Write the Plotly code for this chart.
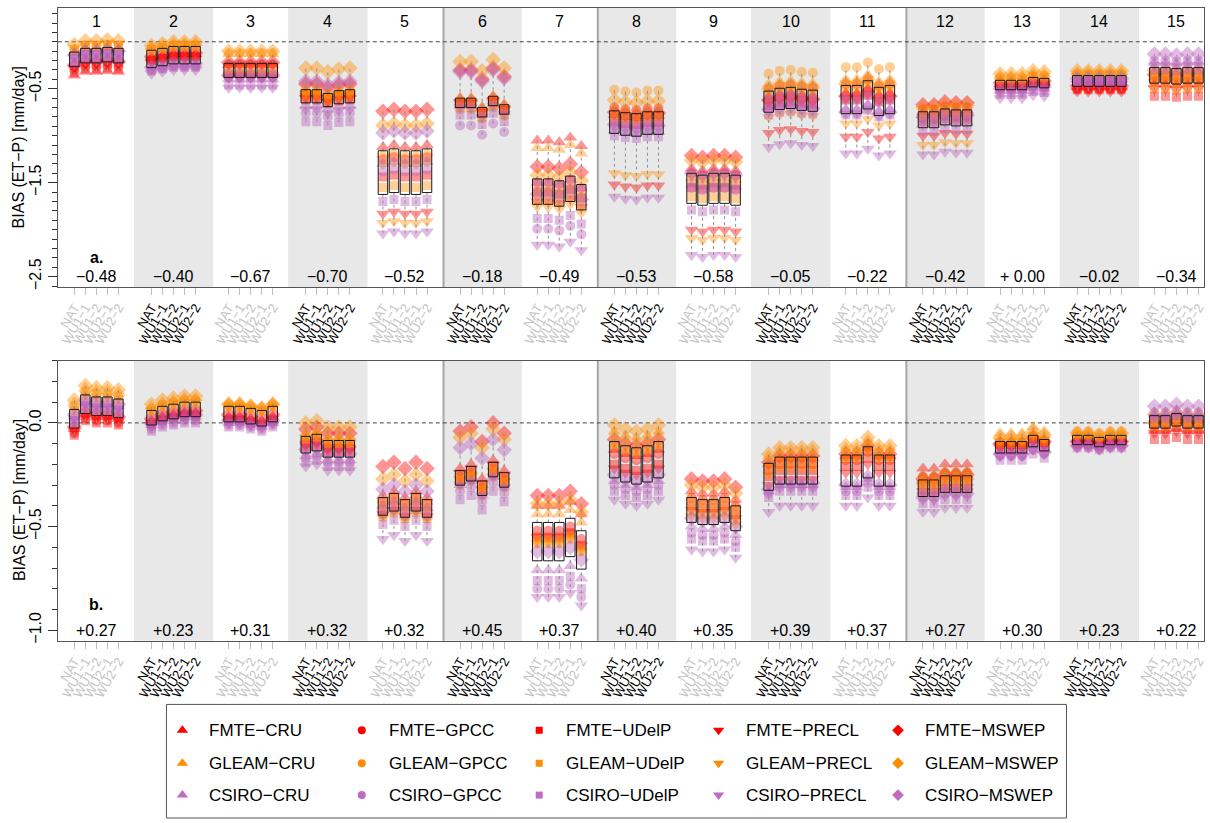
import numpy as np
import plotly.graph_objects as go

FIG_W, FIG_H = 1210, 823

# ---------------- categories / labels ----------------
group_names = [str(i) for i in range(1, 16)]
scenarios = ["NAT", "WU1\u22121", "WU1\u22122", "WU2\u22121", "WU2\u22122"]
et_products = ["FMTE", "GLEAM", "CSIRO"]
p_products = ["CRU", "GPCC", "UDelP", "PRECL", "MSWEP"]

top_labels = ["\u22120.48", "\u22120.40", "\u22120.67", "\u22120.70", "\u22120.52", "\u22120.18", "\u22120.49",
              "\u22120.53", "\u22120.58", "\u22120.05", "\u22120.22", "\u22120.42", "+ 0.00", "\u22120.02", "\u22120.34"]
bot_labels = ["+0.27", "+0.23", "+0.31", "+0.32", "+0.32", "+0.45", "+0.37", "+0.40", "+0.35", "+0.39",
              "+0.37", "+0.27", "+0.30", "+0.23", "+0.22"]

# ---------------- panel a: NAT values per product (15 groups) ----------------
top_FMTE_CRU   = [-0.36, -0.17, -0.25, -0.55, -1.12, -0.60, -1.05, -0.78, -1.35, -0.60, -0.55, -0.75, -0.45, -0.48, -0.45]
top_FMTE_GPCC  = [-0.30, -0.19, -0.24, -0.56, -1.25, -0.66, -1.50, -0.70, -1.40, -0.50, -0.45, -0.72, -0.47, -0.50, -0.42]
top_FMTE_UDelP = [-0.33, -0.20, -0.34, -0.62, -1.44, -0.66, -1.60, -0.85, -1.55, -0.68, -0.62, -0.82, -0.48, -0.51, -0.58]
top_FMTE_PRECL = [-0.28, -0.22, -0.38, -0.60, -1.83, -0.64, -1.70, -1.52, -2.00, -0.97, -1.01, -1.00, -0.50, -0.53, -0.50]
top_FMTE_MSWEP = [-0.25, -0.16, -0.22, -0.45, -0.74, -0.30, -1.33, -0.75, -1.21, -0.62, -0.58, -0.67, -0.44, -0.47, -0.35]
top_GLEAM_CRU   = [-0.12, -0.05, -0.13, -0.52, -1.20, -0.60, -1.13, -0.72, -1.45, -0.45, -0.40, -0.78, -0.36, -0.32, -0.38]
top_GLEAM_GPCC  = [-0.08, -0.07, -0.12, -0.50, -1.30, -0.72, -1.58, -0.51, -1.50, -0.34, -0.27, -0.74, -0.38, -0.34, -0.35]
top_GLEAM_UDelP = [-0.10, -0.08, -0.30, -0.58, -1.55, -0.70, -1.68, -0.80, -1.65, -0.55, -0.48, -0.85, -0.40, -0.35, -0.50]
top_GLEAM_PRECL = [-0.06, -0.10, -0.35, -0.55, -1.93, -0.66, -1.76, -1.40, -2.09, -0.80, -0.87, -1.10, -0.42, -0.37, -0.43]
top_GLEAM_MSWEP = [-0.03, -0.04, -0.10, -0.28, -0.89, -0.21, -1.42, -0.62, -1.26, -0.50, -0.45, -0.70, -0.34, -0.31, -0.30]
top_CSIRO_CRU   = [-0.24, -0.28, -0.40, -0.68, -1.30, -0.68, -1.50, -0.95, -1.52, -0.70, -0.72, -0.88, -0.52, -0.40, -0.22]
top_CSIRO_GPCC  = [-0.18, -0.30, -0.38, -0.76, -1.38, -0.89, -1.99, -0.90, -1.56, -0.60, -0.62, -0.85, -0.54, -0.42, -0.20]
top_CSIRO_UDelP = [-0.21, -0.31, -0.46, -0.85, -1.70, -0.78, -1.88, -1.00, -1.79, -0.78, -0.78, -0.95, -0.56, -0.43, -0.30]
top_CSIRO_PRECL = [-0.16, -0.34, -0.49, -0.72, -2.04, -0.70, -2.16, -1.65, -2.27, -1.12, -1.19, -1.20, -0.60, -0.45, -0.25]
top_CSIRO_MSWEP = [-0.14, -0.27, -0.36, -0.42, -0.97, -0.32, -1.62, -0.88, -1.40, -0.72, -0.75, -0.80, -0.50, -0.39, -0.13]

# scenario offsets relative to NAT (panel a)
top_shift_NAT  = [0.0] * 15
top_shift_WU11 = [0.04, 0.02, 0.00, 0.00, 0.02, 0.00, 0.00, -0.02, -0.02, 0.03, 0.00, 0.00, 0.00, 0.00, 0.00]
top_shift_WU12 = [0.04, 0.04, 0.00, -0.04, 0.00, -0.10, -0.02, -0.03, 0.00, 0.04, 0.05, 0.03, 0.00, 0.00, -0.01]
top_shift_WU21 = [0.05, 0.04, 0.00, -0.01, 0.00, 0.02, 0.03, -0.01, 0.00, 0.02, -0.02, 0.02, 0.03, 0.00, 0.00]
top_shift_WU22 = [0.04, 0.04, 0.00, 0.00, 0.02, -0.07, -0.06, -0.01, -0.02, 0.01, 0.00, 0.02, 0.02, 0.00, 0.00]

# ---------------- panel b ----------------
bot_FMTE_CRU   = [-0.03, 0.01, 0.03, -0.08, -0.35, -0.22, -0.40, -0.13, -0.33, -0.20, -0.16, -0.22, -0.09, -0.08, -0.04]
bot_FMTE_GPCC  = [-0.05, 0.00, 0.02, -0.10, -0.38, -0.26, -0.52, -0.15, -0.36, -0.23, -0.18, -0.26, -0.11, -0.09, -0.03]
bot_FMTE_UDelP = [-0.06, -0.01, 0.01, -0.12, -0.42, -0.28, -0.55, -0.20, -0.40, -0.26, -0.21, -0.30, -0.13, -0.10, -0.08]
bot_FMTE_PRECL = [-0.04, 0.00, 0.02, -0.11, -0.44, -0.24, -0.55, -0.22, -0.42, -0.30, -0.24, -0.33, -0.12, -0.10, -0.05]
bot_FMTE_MSWEP = [-0.02, 0.02, 0.04, -0.03, -0.21, -0.04, -0.35, -0.08, -0.27, -0.19, -0.15, -0.27, -0.10, -0.09, 0.00]
bot_GLEAM_CRU   = [0.10, 0.08, 0.10, -0.05, -0.37, -0.25, -0.44, -0.04, -0.36, -0.16, -0.12, -0.25, -0.05, -0.05, 0.01]
bot_GLEAM_GPCC  = [0.08, 0.07, 0.09, -0.06, -0.40, -0.28, -0.56, -0.06, -0.39, -0.19, -0.14, -0.28, -0.08, -0.04, 0.02]
bot_GLEAM_UDelP = [0.06, 0.06, 0.08, -0.08, -0.45, -0.30, -0.58, -0.10, -0.43, -0.22, -0.16, -0.32, -0.10, -0.06, -0.02]
bot_GLEAM_PRECL = [0.07, 0.06, 0.08, -0.07, -0.46, -0.27, -0.58, -0.12, -0.45, -0.25, -0.18, -0.35, -0.09, -0.06, 0.00]
bot_GLEAM_MSWEP = [0.11, 0.09, 0.09, 0.00, -0.27, -0.07, -0.39, -0.01, -0.30, -0.15, -0.11, -0.29, -0.07, -0.05, 0.04]
bot_CSIRO_CRU   = [0.03, -0.01, 0.00, -0.16, -0.40, -0.30, -0.71, -0.28, -0.50, -0.33, -0.31, -0.33, -0.14, -0.10, 0.04]
bot_CSIRO_GPCC  = [0.01, -0.03, -0.01, -0.17, -0.44, -0.33, -0.80, -0.30, -0.53, -0.34, -0.33, -0.36, -0.16, -0.11, 0.05]
bot_CSIRO_UDelP = [0.00, -0.04, -0.02, -0.19, -0.49, -0.37, -0.76, -0.33, -0.56, -0.36, -0.35, -0.39, -0.18, -0.12, 0.02]
bot_CSIRO_PRECL = [0.02, -0.02, 0.00, -0.21, -0.56, -0.30, -0.84, -0.37, -0.61, -0.43, -0.40, -0.43, -0.16, -0.12, 0.03]
bot_CSIRO_MSWEP = [0.04, 0.00, 0.01, -0.13, -0.32, -0.12, -0.62, -0.25, -0.46, -0.32, -0.30, -0.36, -0.15, -0.11, 0.08]

bot_shift_NAT  = [0.0] * 15
bot_shift_WU11 = [0.07, 0.02, 0.00, 0.01, 0.02, 0.02, 0.00, -0.02, -0.01, 0.03, 0.00, 0.00, 0.00, 0.00, 0.00]
bot_shift_WU12 = [0.06, 0.03, -0.01, -0.02, -0.01, -0.05, 0.00, -0.03, -0.01, 0.03, 0.04, 0.02, 0.00, -0.01, 0.01]
bot_shift_WU21 = [0.06, 0.04, -0.02, -0.02, 0.02, 0.04, 0.02, -0.02, 0.00, 0.03, 0.00, 0.02, 0.03, 0.00, 0.00]
bot_shift_WU22 = [0.05, 0.04, 0.00, -0.02, -0.01, -0.01, -0.04, 0.00, -0.04, 0.03, 0.00, 0.02, 0.01, 0.00, 0.00]

top_values = {
    ("FMTE", "CRU"): top_FMTE_CRU, ("FMTE", "GPCC"): top_FMTE_GPCC, ("FMTE", "UDelP"): top_FMTE_UDelP,
    ("FMTE", "PRECL"): top_FMTE_PRECL, ("FMTE", "MSWEP"): top_FMTE_MSWEP,
    ("GLEAM", "CRU"): top_GLEAM_CRU, ("GLEAM", "GPCC"): top_GLEAM_GPCC, ("GLEAM", "UDelP"): top_GLEAM_UDelP,
    ("GLEAM", "PRECL"): top_GLEAM_PRECL, ("GLEAM", "MSWEP"): top_GLEAM_MSWEP,
    ("CSIRO", "CRU"): top_CSIRO_CRU, ("CSIRO", "GPCC"): top_CSIRO_GPCC, ("CSIRO", "UDelP"): top_CSIRO_UDelP,
    ("CSIRO", "PRECL"): top_CSIRO_PRECL, ("CSIRO", "MSWEP"): top_CSIRO_MSWEP,
}
bot_values = {
    ("FMTE", "CRU"): bot_FMTE_CRU, ("FMTE", "GPCC"): bot_FMTE_GPCC, ("FMTE", "UDelP"): bot_FMTE_UDelP,
    ("FMTE", "PRECL"): bot_FMTE_PRECL, ("FMTE", "MSWEP"): bot_FMTE_MSWEP,
    ("GLEAM", "CRU"): bot_GLEAM_CRU, ("GLEAM", "GPCC"): bot_GLEAM_GPCC, ("GLEAM", "UDelP"): bot_GLEAM_UDelP,
    ("GLEAM", "PRECL"): bot_GLEAM_PRECL, ("GLEAM", "MSWEP"): bot_GLEAM_MSWEP,
    ("CSIRO", "CRU"): bot_CSIRO_CRU, ("CSIRO", "GPCC"): bot_CSIRO_GPCC, ("CSIRO", "UDelP"): bot_CSIRO_UDelP,
    ("CSIRO", "PRECL"): bot_CSIRO_PRECL, ("CSIRO", "MSWEP"): bot_CSIRO_MSWEP,
}
top_shifts = [top_shift_NAT, top_shift_WU11, top_shift_WU12, top_shift_WU21, top_shift_WU22]
bot_shifts = [bot_shift_NAT, bot_shift_WU11, bot_shift_WU12, bot_shift_WU21, bot_shift_WU22]

# ---------------- styles ----------------
FONT = "Liberation Sans, Arial, Helvetica, sans-serif"
ET_COLORS = {"FMTE": "#FF0000", "GLEAM": "#FF8C00", "CSIRO": "#BA5CBA"}
LEG_COLORS = {"FMTE": "#FF0000", "GLEAM": "#FF8C00", "CSIRO": "#C06CC0"}
SYMBOLS = {"CRU": "triangle-up", "GPCC": "circle", "UDelP": "square", "PRECL": "triangle-down", "MSWEP": "diamond"}
SIZES = {"CRU": 12, "GPCC": 10, "UDelP": 9, "PRECL": 12, "MSWEP": 12}
LEG_SIZES = {"CRU": 10, "GPCC": 8, "UDelP": 7, "PRECL": 10, "MSWEP": 9}
BAND_COLOR = "#E8E8E8"
GROUP_STEP = 7
BOX_HALF = 0.43
X_RANGE = [-0.5, 103.5]


def xpos(g, s):
    return GROUP_STEP * g + s + 1


def gcenter(g):
    return GROUP_STEP * g + 3


def fivenum(v):
    v = np.sort(np.asarray(v, dtype=float))
    n = len(v)
    n4 = np.floor((n + 3) / 2) / 2
    d = np.array([1, n4, (n + 1) / 2, n + 1 - n4, n]) - 1
    return 0.5 * (v[np.floor(d).astype(int)] + v[np.ceil(d).astype(int)])


fig = go.Figure()

panels = [("x", "y", top_values, top_shifts), ("x2", "y2", bot_values, bot_shifts)]
for xa, ya, vals, shifts in panels:
    stack = np.zeros((15, 5, 15))
    k = 0
    for et in et_products:
        for p in p_products:
            base = vals[(et, p)]
            for g in range(15):
                for s in range(5):
                    stack[g, s, k] = base[g] + shifts[s][g]
            k += 1
    bx, by, mx, my, wx, wy = [], [], [], [], [], []
    for g in range(15):
        for s in range(5):
            lo, q1, med, q3, hi = fivenum(stack[g, s])
            xc = xpos(g, s)
            bx += [xc - BOX_HALF, xc + BOX_HALF, xc + BOX_HALF, xc - BOX_HALF, xc - BOX_HALF, None]
            by += [q1, q1, q3, q3, q1, None]
            mx += [xc - BOX_HALF + 0.06, xc + BOX_HALF - 0.06, None]
            my += [med, med, None]
            wx += [xc, xc, None, xc, xc, None]
            wy += [lo, q1, None, q3, hi, None]
    # white median first (partly covered by the translucent points)
    fig.add_trace(go.Scatter(x=mx, y=my, mode="lines", xaxis=xa, yaxis=ya, showlegend=False, hoverinfo="skip",
                             line=dict(color="white", width=3)))
    k = 0
    for et in et_products:
        for p in p_products:
            xs, ys = [], []
            for g in range(15):
                for s in range(5):
                    xs.append(xpos(g, s))
                    ys.append(stack[g, s, k])
            k += 1
            fig.add_trace(go.Scatter(
                x=xs, y=ys, mode="markers", xaxis=xa, yaxis=ya, showlegend=False, hoverinfo="skip",
                marker=dict(symbol=SYMBOLS[p], size=SIZES[p], color=ET_COLORS[et], opacity=0.42,
                            line=dict(width=0))))
    fig.add_trace(go.Scatter(x=wx, y=wy, mode="lines", xaxis=xa, yaxis=ya, showlegend=False, hoverinfo="skip",
                             line=dict(color="#909090", width=1, dash="3px,3px")))
    fig.add_trace(go.Scatter(x=bx, y=by, mode="lines", xaxis=xa, yaxis=ya, showlegend=False, hoverinfo="skip",
                             line=dict(color="#1A1A1A", width=1)))

# dummy traces to register overlay axes (even-group tick labels)
fig.add_trace(go.Scatter(x=[None], y=[None], xaxis="x3", yaxis="y", showlegend=False, hoverinfo="skip"))
fig.add_trace(go.Scatter(x=[None], y=[None], xaxis="x4", yaxis="y2", showlegend=False, hoverinfo="skip"))

# ---------------- legend (manual) ----------------
leg_col_x = [182, 362, 540, 720, 900]
leg_row_y = [733, 766, 798]
for r, et in enumerate(et_products):
    for c, p in enumerate(p_products):
        fig.add_trace(go.Scatter(
            x=[leg_col_x[c]], y=[leg_row_y[r]], mode="markers", xaxis="x5", yaxis="y5",
            showlegend=False, hoverinfo="skip",
            marker=dict(symbol=SYMBOLS[p], size=LEG_SIZES[p], color=LEG_COLORS[et], line=dict(width=0))))

# ---------------- layout ----------------
x_dom = [57 / FIG_W, 1207 / FIG_W]
top_dom = [1 - 288 / FIG_H, 1 - 8 / FIG_H]
bot_dom = [1 - 643 / FIG_H, 1 - 362 / FIG_H]

odd_vals, odd_text, even_vals, even_text = [], [], [], []
for g in range(15):
    for s in range(5):
        if g % 2 == 0:
            odd_vals.append(xpos(g, s)); odd_text.append(scenarios[s])
        else:
            even_vals.append(xpos(g, s)); even_text.append(scenarios[s])


def x_cfg(anchor, vals, text, color, main=True, overlay=None):
    d = dict(range=X_RANGE, anchor=anchor, tickmode="array", tickvals=vals, ticktext=text,
             ticks="outside", ticklen=7, tickwidth=1, tickcolor="#BDBDBD", tickangle=-60,
             tickfont=dict(size=13, color=color, family=FONT), showgrid=False, zeroline=False,
             fixedrange=True)
    if main:
        d.update(domain=x_dom, showline=True, linecolor="#555555", linewidth=1, mirror=True)
    else:
        d.update(overlaying=overlay, showline=False)
    return d


def y_cfg(dom, rng, majors, labels, minors):
    return dict(domain=dom, range=rng, tickmode="array", tickvals=majors, ticktext=labels,
                ticks="outside", ticklen=9, tickwidth=1, tickcolor="#333333", tickangle=-90,
                tickfont=dict(size=16, color="black", family=FONT), showgrid=False, zeroline=False,
                showline=True, linecolor="#555555", linewidth=1, mirror=True, fixedrange=True,
                minor=dict(tickmode="array", tickvals=minors, ticks="outside", ticklen=5,
                           tickcolor="#333333", showgrid=False))


top_minor = [round(v, 1) for v in np.arange(-2.6, 0.31, 0.1)]
bot_minor = [round(v, 1) for v in np.arange(-1.0, 0.31, 0.1)]

shapes = []
for xr, yr in [("x", "y"), ("x2", "y2")]:
    for g in range(1, 15, 2):
        shapes.append(dict(type="rect", xref=xr, yref=yr + " domain", x0=gcenter(g) - 3.6, x1=gcenter(g) + 3.6,
                           y0=0, y1=1, fillcolor=BAND_COLOR, line=dict(width=0), layer="below"))
    for b in [5, 7, 11]:
        xb = GROUP_STEP * b - 0.5
        shapes.append(dict(type="line", xref=xr, yref=yr + " domain", x0=xb, x1=xb, y0=0, y1=1,
                           line=dict(color="#A8A8A8", width=2), layer="below"))
    shapes.append(dict(type="line", xref=xr + " domain", yref=yr, x0=0, x1=1, y0=0, y1=0,
                       line=dict(color="#444444", width=1, dash="4px,3px"), layer="below"))
shapes.append(dict(type="rect", xref="x5", yref="y5", x0=166, x1=1069, y0=707, y1=821,
                   line=dict(color="#555555", width=1), fillcolor="rgba(0,0,0,0)"))

annotations = []


def py(p):
    return 1 - p / FIG_H


def txt(x, y, text, xref, yref, size=16, **kw):
    d = dict(x=x, y=y, xref=xref, yref=yref, text=text, showarrow=False, xanchor="center", yanchor="middle",
             font=dict(size=size, color="black", family=FONT))
    d.update(kw)
    return d


for g in range(15):
    annotations.append(txt(gcenter(g), py(22), group_names[g], "x", "paper"))
    annotations.append(txt(gcenter(g), py(278), top_labels[g], "x", "paper"))
    annotations.append(txt(gcenter(g), py(633), bot_labels[g], "x2", "paper"))
annotations.append(txt(gcenter(0), py(258), "<b>a.</b>", "x", "paper"))
annotations.append(txt(gcenter(0), py(607), "<b>b.</b>", "x2", "paper"))
for yc in [148, 502]:
    annotations.append(txt(18 / FIG_W, py(yc), "BIAS (ET\u2212P) [mm/day]", "paper", "paper", textangle=-90))
for r, et in enumerate(et_products):
    for c, p in enumerate(p_products):
        annotations.append(txt(leg_col_x[c] + 25, leg_row_y[r], f"{et}\u2212{p}", "x5", "y5", size=17,
                               xanchor="left"))

fig.update_layout(
    width=FIG_W, height=FIG_H, margin=dict(l=0, r=0, t=0, b=0),
    paper_bgcolor="white", plot_bgcolor="white", font=dict(family=FONT, color="black"),
    showlegend=False,
    xaxis=x_cfg("y", odd_vals, odd_text, "#C4C4C4"),
    xaxis2=x_cfg("y2", odd_vals, odd_text, "#C4C4C4"),
    xaxis3=x_cfg("y", even_vals, even_text, "black", main=False, overlay="x"),
    xaxis4=x_cfg("y2", even_vals, even_text, "black", main=False, overlay="x2"),
    yaxis=y_cfg(top_dom, [-2.61, 0.36], [0, -0.5, -1.0, -1.5, -2.0, -2.5],
                ["", "\u22120.5", "", "\u22121.5", "", "\u22122.5"], top_minor),
    yaxis2=y_cfg(bot_dom, [-1.05, 0.30], [0, -0.5, -1.0], ["0.0", "\u22120.5", "\u22121.0"], bot_minor),
    xaxis5=dict(domain=[0, 1], range=[0, FIG_W], visible=False, anchor="y5", fixedrange=True),
    yaxis5=dict(domain=[0, 0.19], range=[FIG_H, FIG_H - 0.19 * FIG_H], visible=False, anchor="x5",
                fixedrange=True),
    shapes=shapes, annotations=annotations,
)

fig.write_html("out.html", config={"displayModeBar": False},
               post_script="document.body.style.margin='0';document.body.style.overflow='hidden';")
